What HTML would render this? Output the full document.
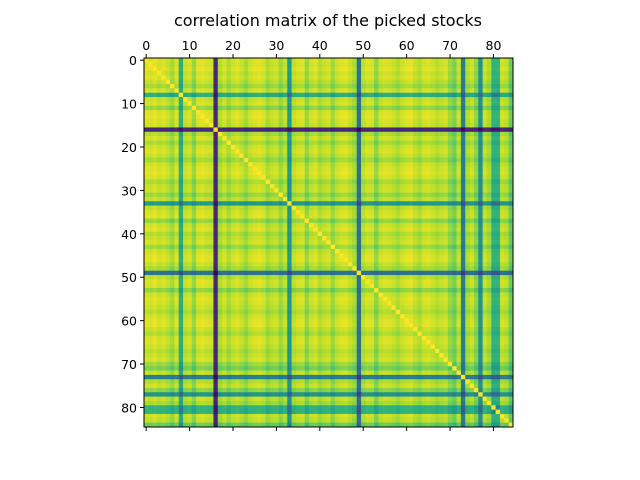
<!DOCTYPE html>
<html><head><meta charset="utf-8"><style>
html,body{margin:0;padding:0;background:#fff;}
svg{display:block;font-family:"DejaVu Sans","Liberation Sans",sans-serif;}
</style></head><body>
<svg id="chart" width="640" height="480">
<text x="328" y="26" font-size="16" text-anchor="middle">correlation matrix of the picked stocks</text>
<g id="cells"></g>
<g id="axes"></g>
</svg>
<script>
// per-stock average co-movement loading (read from stripe intensities)
const loadings = [0.98,0.97,0.99,0.96,0.98,0.95,0.9,0.97,0.68,0.95,0.97,0.88,0.98,0.99,0.97,0.96,0.2,0.92,0.97,0.91,0.96,0.98,0.95,0.9,0.96,0.98,0.99,0.97,0.91,0.95,0.96,0.89,0.95,0.6,0.94,0.97,0.98,0.88,0.96,0.98,0.92,0.95,0.97,0.89,0.96,0.98,0.99,0.95,0.91,0.45,0.94,0.98,0.97,0.87,0.96,0.98,0.97,0.95,0.92,0.96,0.98,0.99,0.95,0.92,0.97,0.98,0.96,0.93,0.95,0.97,0.89,0.84,0.95,0.5,0.92,0.96,0.87,0.58,0.95,0.91,0.7,0.7,0.96,0.94,0.82];
const xTicks = [0,10,20,30,40,50,60,70,80];
const yTicks = [0,10,20,30,40,50,60,70,80];

const N = loadings.length;
const L=144, T=58, W=369, H=369;
const cw=W/N, ch=H/N;
const xs = i => L + i*cw;
const ys = i => T + i*ch;
const vir=[[68,1,84],[72,40,120],[62,74,137],[49,104,142],[38,130,142],[31,158,137],[53,183,121],[109,205,89],[180,222,44],[253,231,37]];
function color(t){t=Math.max(0,Math.min(1,t));const p=t*(vir.length-1),k=Math.min(vir.length-2,Math.floor(p)),f=p-k;
 const c=vir[k].map((v,j)=>Math.round(v+(vir[k+1][j]-v)*f));return `rgb(${c})`;}
const vals=[];let vmin=1;
for(let i=0;i<N;i++){vals.push([]);for(let j=0;j<N;j++){const v=i===j?1:loadings[i]*loadings[j];vals[i].push(v);if(v<vmin)vmin=v;}}
const NS='http://www.w3.org/2000/svg';
const g=document.getElementById('cells');
for(let i=0;i<N;i++)for(let j=0;j<N;j++){
 const r=document.createElementNS(NS,'rect');
 r.setAttribute('x',xs(j));r.setAttribute('y',ys(i));
 r.setAttribute('width',cw+0.4);r.setAttribute('height',ch+0.4);
 r.setAttribute('fill',color((vals[i][j]-vmin)/(1-vmin)));
 
 
 g.appendChild(r);}
const a=document.getElementById('axes');
const fr=document.createElementNS(NS,'rect');
fr.setAttribute('x',L);fr.setAttribute('y',T);fr.setAttribute('width',W);fr.setAttribute('height',H);
fr.setAttribute('fill','none');fr.setAttribute('stroke','#000');fr.setAttribute('stroke-width','1');


a.appendChild(fr);
function line(x1,y1,x2,y2){const l=document.createElementNS(NS,'line');l.setAttribute('x1',x1);l.setAttribute('y1',y1);l.setAttribute('x2',x2);l.setAttribute('y2',y2);l.setAttribute('stroke','#000');
 
 
 a.appendChild(l);}
function text(x,y,s,anchor,name){const t=document.createElementNS(NS,'text');t.setAttribute('x',x);t.setAttribute('y',y);t.setAttribute('font-size','12.5');t.setAttribute('text-anchor',anchor);t.textContent=s;
 
 
 a.appendChild(t);}
xTicks.forEach(v=>{const x=xs(v)+cw/2;line(x,T,x,T-4);line(x,T+H,x,T+H+4);text(x,T-8,v,'middle','x-tick-label');});
yTicks.forEach(v=>{const y=ys(v)+ch/2;line(L,y,L-4,y);text(L-7,y+5,v,'end','y-tick-label');});
</script>
</body></html>
